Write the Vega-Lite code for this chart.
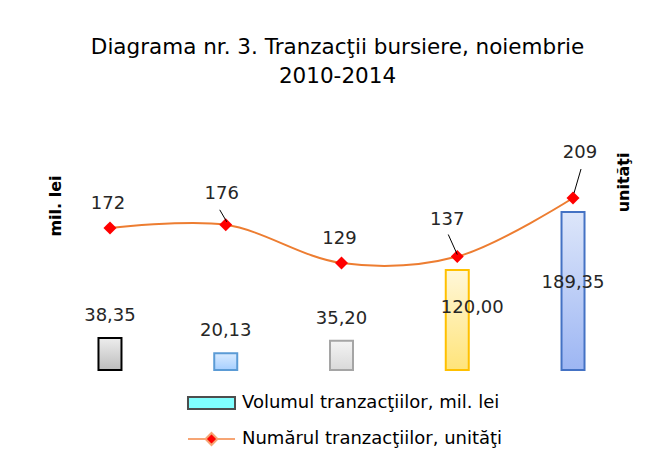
{
  "$schema": "https://vega.github.io/schema/vega-lite/v6.json",
  "autosize": "none",
  "width": 548,
  "height": 230,
  "padding": {"left": 67.5, "top": 140, "right": 40.5, "bottom": 81},
  "background": "#ffffff",
  "title": {
    "text": ["Diagrama nr. 3. Tranzacţii bursiere, noiembrie", "2010-2014"],
    "font": "DejaVu Sans", "fontSize": 21.5, "fontWeight": "normal", "color": "#000000",
    "lineHeight": 29, "offset": 53, "anchor": "middle", "dx": -4
  },
  "data": {"values": [
    {"year": "2010", "volum": 38.35, "numar": 172},
    {"year": "2011", "volum": 20.13, "numar": 176},
    {"year": "2012", "volum": 35.20, "numar": 129},
    {"year": "2013", "volum": 120.00, "numar": 137},
    {"year": "2014", "volum": 189.35, "numar": 209}
  ]},
  "encoding": {
    "x": {"field": "year", "type": "ordinal", "scale": {"type": "point", "padding": 0.367}, "axis": null}
  },
  "layer": [
    {
      "encoding": {
        "y": {"field": "volum", "type": "quantitative",
          "scale": {"domain": [0, 275.8], "nice": false, "zero": true},
          "axis": {"title": "mil. lei", "labels": false, "ticks": false, "domain": false, "grid": false,
            "titleAngle": 270, "titleX": -12.5, "titleY": 35, "titleAlign": "right", "titleBaseline": "middle",
            "titleFont": "DejaVu Sans", "titleFontSize": 16, "titleFontWeight": "bold", "titleColor": "#000000"}}
      },
      "layer": [
        {
          "mark": {"type": "bar", "width": 23, "strokeWidth": 2},
          "encoding": {
            "fill": {
              "condition": [
                {"test": "datum.year === '2010'", "value": {"gradient": "linear", "x1": 0, "y1": 0, "x2": 0, "y2": 1, "stops": [{"offset": 0, "color": "#ededed"}, {"offset": 1, "color": "#bdbdbd"}]}},
                {"test": "datum.year === '2011'", "value": {"gradient": "linear", "x1": 0, "y1": 0, "x2": 0, "y2": 1, "stops": [{"offset": 0, "color": "#d9ebff"}, {"offset": 1, "color": "#a6cfff"}]}},
                {"test": "datum.year === '2012'", "value": {"gradient": "linear", "x1": 0, "y1": 0, "x2": 0, "y2": 1, "stops": [{"offset": 0, "color": "#f4f4f4"}, {"offset": 1, "color": "#d9d9d9"}]}},
                {"test": "datum.year === '2013'", "value": {"gradient": "linear", "x1": 0, "y1": 0, "x2": 0, "y2": 1, "stops": [{"offset": 0, "color": "#fff7d9"}, {"offset": 1, "color": "#ffe47a"}]}}
              ],
              "value": {"gradient": "linear", "x1": 0, "y1": 0, "x2": 0, "y2": 1, "stops": [{"offset": 0, "color": "#dde6fa"}, {"offset": 1, "color": "#9db6f3"}]}
            },
            "stroke": {
              "condition": [
                {"test": "datum.year === '2010'", "value": "#000000"},
                {"test": "datum.year === '2011'", "value": "#5b9bd5"},
                {"test": "datum.year === '2012'", "value": "#a5a5a5"},
                {"test": "datum.year === '2013'", "value": "#ffc000"}
              ],
              "value": "#4472c4"
            }
          }
        },
        {
          "transform": [{"filter": "datum.volum < 100"}],
          "mark": {"type": "text", "font": "DejaVu Sans", "fontSize": 18, "color": "#262626", "baseline": "middle", "dy": -22},
          "encoding": {"text": {"field": "volum", "type": "quantitative", "format": ".2f"}}
        },
        {
          "transform": [{"filter": "datum.year === '2013'"}],
          "mark": {"type": "text", "font": "DejaVu Sans", "fontSize": 18, "color": "#262626", "baseline": "middle", "dy": 38, "dx": 15},
          "encoding": {"text": {"field": "volum", "type": "quantitative", "format": ".2f"}}
        },
        {
          "transform": [{"filter": "datum.year === '2014'"}],
          "mark": {"type": "text", "font": "DejaVu Sans", "fontSize": 18, "color": "#262626", "baseline": "middle", "dy": 71},
          "encoding": {"text": {"field": "volum", "type": "quantitative", "format": ".2f"}}
        },
        {
          "transform": [{"fold": ["volum", "numar"], "as": ["key", "val"]}],
          "mark": {"type": "point", "opacity": 0, "filled": true, "size": 900, "strokeWidth": 2},
          "encoding": {
            "fill": {"field": "key", "type": "nominal",
              "scale": {"domain": ["volum", "numar"], "range": ["#80ffff", "#ff0000"]},
              "legend": {
                "title": null, "orient": "none", "legendX": 128, "legendY": 247, "direction": "vertical",
                "padding": 0, "symbolSize": 900, "rowPadding": 10, "labelOffset": 14.5,
                "symbolOpacity": 1, "symbolStrokeWidth": 2,
                "labelFont": "DejaVu Sans", "labelFontSize": 18, "labelColor": "#000000", "labelLimit": 500,
                "labelExpr": "datum.value === 'volum' ? 'Volumul tranzacţiilor, mil. lei' : 'Numărul tranzacţiilor, unităţi'"
              }
            },
            "stroke": {"field": "key", "type": "nominal",
              "scale": {"domain": ["volum", "numar"], "range": ["#4d4d4d", "#f6a574"]},
              "legend": {
                "title": null, "orient": "none", "legendX": 128, "legendY": 247, "direction": "vertical",
                "padding": 0, "symbolSize": 900, "rowPadding": 10, "labelOffset": 14.5,
                "symbolOpacity": 1, "symbolStrokeWidth": 2,
                "labelFont": "DejaVu Sans", "labelFontSize": 18, "labelColor": "#000000", "labelLimit": 500,
                "labelExpr": "datum.value === 'volum' ? 'Volumul tranzacţiilor, mil. lei' : 'Numărul tranzacţiilor, unităţi'"
              }
            },
            "shape": {"field": "key", "type": "nominal",
              "scale": {"domain": ["volum", "numar"], "range": ["M-1.567,-0.4H1.567V0.4H-1.567Z", "M-1.567,0H-0.4M0.4,0H1.567M0,-0.4L0.4,0L0,0.4L-0.4,0Z"]},
              "legend": {
                "title": null, "orient": "none", "legendX": 128, "legendY": 247, "direction": "vertical",
                "padding": 0, "symbolSize": 900, "rowPadding": 10, "labelOffset": 14.5,
                "symbolOpacity": 1, "symbolStrokeWidth": 2,
                "labelFont": "DejaVu Sans", "labelFontSize": 18, "labelColor": "#000000", "labelLimit": 500,
                "labelExpr": "datum.value === 'volum' ? 'Volumul tranzacţiilor, mil. lei' : 'Numărul tranzacţiilor, unităţi'"
              }
            }
          }
        }
      ]
    },
    {
      "encoding": {
        "y": {"field": "numar", "type": "quantitative",
          "scale": {"domain": [-2.7, 280.4], "nice": false, "zero": false},
          "axis": {"title": "unităţi", "orient": "right", "labels": false, "ticks": false, "domain": false, "grid": false,
            "titleAngle": 270, "titleX": 8, "titleY": 12, "titleAlign": "right", "titleBaseline": "middle",
            "titleFont": "DejaVu Sans", "titleFontSize": 16, "titleFontWeight": "bold", "titleColor": "#000000"}}
      },
      "layer": [
        {"mark": {"type": "line", "interpolate": "catmull-rom", "color": "#ed7d31", "strokeWidth": 2}},
        {"mark": {"type": "point", "shape": "diamond", "filled": true, "color": "#ff0000", "size": 170, "opacity": 1}},
        {
          "transform": [{"filter": "datum.year === '2010' || datum.year === '2012'"}],
          "mark": {"type": "text", "font": "DejaVu Sans", "fontSize": 18, "color": "#262626", "baseline": "middle", "dy": -24, "dx": -2},
          "encoding": {"text": {"field": "numar", "type": "quantitative"}}
        },
        {
          "transform": [{"filter": "datum.year === '2011'"}],
          "mark": {"type": "text", "font": "DejaVu Sans", "fontSize": 18, "color": "#262626", "baseline": "middle", "dy": -31, "dx": -4},
          "encoding": {"text": {"field": "numar", "type": "quantitative"}}
        },
        {
          "transform": [{"filter": "datum.year === '2013'"}],
          "mark": {"type": "text", "font": "DejaVu Sans", "fontSize": 18, "color": "#262626", "baseline": "middle", "dy": -37, "dx": -10},
          "encoding": {"text": {"field": "numar", "type": "quantitative"}}
        },
        {
          "transform": [{"filter": "datum.year === '2014'"}],
          "mark": {"type": "text", "font": "DejaVu Sans", "fontSize": 18, "color": "#262626", "baseline": "middle", "dy": -45, "dx": 7},
          "encoding": {"text": {"field": "numar", "type": "quantitative"}}
        },
        {
          "transform": [{"filter": "datum.year === '2011'"}],
          "mark": {"type": "rule", "color": "#000000", "strokeWidth": 1, "xOffset": -6, "yOffset": -15, "x2Offset": 1, "y2Offset": -3},
          "encoding": {"x2": {"field": "year"}, "y2": {"field": "numar"}}
        },
        {
          "transform": [{"filter": "datum.year === '2013'"}],
          "mark": {"type": "rule", "color": "#000000", "strokeWidth": 1, "xOffset": -9, "yOffset": -22, "x2Offset": 0, "y2Offset": -2},
          "encoding": {"x2": {"field": "year"}, "y2": {"field": "numar"}}
        },
        {
          "transform": [{"filter": "datum.year === '2014'"}],
          "mark": {"type": "rule", "color": "#000000", "strokeWidth": 1, "xOffset": 8, "yOffset": -29, "x2Offset": 1, "y2Offset": -5},
          "encoding": {"x2": {"field": "year"}, "y2": {"field": "numar"}}
        }
      ]
    }
  ],
  "resolve": {"scale": {"y": "independent", "color": "independent"}},
  "config": {
    "view": {"stroke": null},
    "locale": {"number": {"decimal": ",", "thousands": ".", "grouping": [3], "currency": ["", ""]}}
  }
}
